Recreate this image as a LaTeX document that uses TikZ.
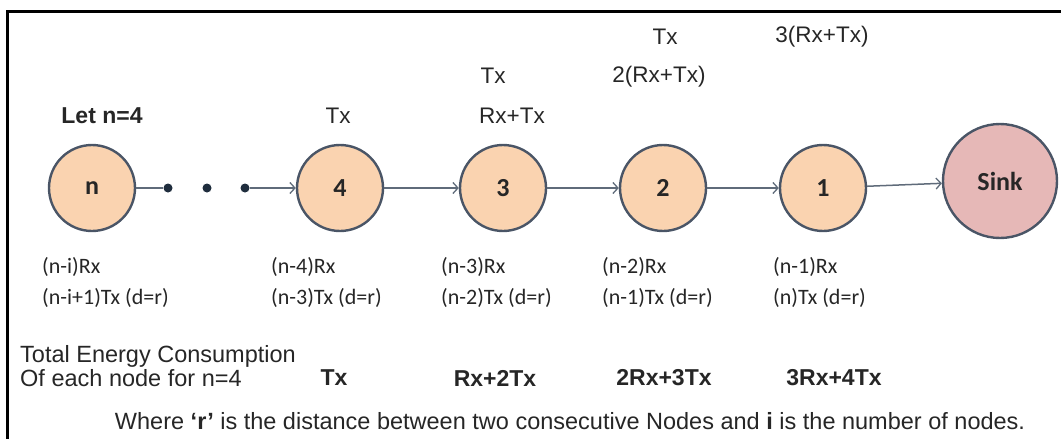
\documentclass[tikz,border=0pt]{standalone}
\usepackage{fontspec}
\setmainfont{Liberation Sans}
\newfontfamily\calfont{Carlito}
\usetikzlibrary{arrows.meta}
\definecolor{peach}{HTML}{FAD3B0}
\definecolor{rose}{HTML}{E6B8B7}
\definecolor{ring}{HTML}{4A5566}
\definecolor{wire}{HTML}{5F6B7A}
\definecolor{dotc}{HTML}{1F2D3D}
\definecolor{ink}{HTML}{262626}
\tikzset{
  nd/.style={circle, draw=ring, line width=2.4pt, fill=peach, minimum size=86pt,
    inner sep=0pt, text=ink, font=\calfont\bfseries\fontsize{26}{28}\selectfont},
  sinknd/.style={nd, fill=rose, minimum size=114pt},
  dotnd/.style={circle, fill=dotc, minimum size=9pt, inner sep=0pt},
  wireline/.style={draw=wire, line width=1.5pt},
  link/.style={wireline, -{Straight Barb[length=5pt,width=11pt,line width=1.3pt]}},
  toplbl/.style={text=ink, font=\fontsize{22.5}{26}\selectfont, inner sep=0pt},
  botlbl/.style={text=ink, font=\calfont\fontsize{22}{31}\selectfont, align=left, anchor=west, inner sep=0pt},
  sumlbl/.style={text=ink, font=\bfseries\fontsize{23}{26}\selectfont, inner sep=0pt},
}
\begin{document}
\begin{tikzpicture}[x=1pt, y=-1pt]
  \useasboundingbox (0,0) rectangle (1061,439);
  % frame (open to the right and bottom)
  \draw[line width=3pt, black] (7.5,439) -- (7.5,11) -- (1061,11);

  % chain of nodes
  \node[nd] (n) at (92,188) {n};
  \node[nd] (four) at (340,188) {4};
  \node[nd] (three) at (503,188) {3};
  \node[nd] (two) at (663,188) {2};
  \node[nd] (one) at (823,188) {1};
  \node[sinknd] (sink) at (1000,181) {Sink};

  % ellipsis between n and 4
  \node[dotnd] (d1) at (168,188) {};
  \node[dotnd] (d2) at (207,188) {};
  \node[dotnd] (d3) at (245,188) {};
  \draw[wireline] (n) -- (d1);
  \draw[link] (d3) -- (four);
  \draw[link] (four) -- (three);
  \draw[link] (three) -- (two);
  \draw[link] (two) -- (one);
  \draw[link] (one) -- (sink);

  % energy spent above each node
  \node[toplbl, font=\bfseries\fontsize{23}{26}\selectfont] (letn) at (102,116) {Let n=4};
  \node[toplbl] (t4) at (338,116) {Tx};
  \node[toplbl] (t3a) at (493,76) {Tx};
  \node[toplbl] (t3b) at (512,116) {Rx+Tx};
  \node[toplbl] (t2a) at (665,37) {Tx};
  \node[toplbl] (t2b) at (659,77) {2(Rx+Tx)};
  \node[toplbl] (t1) at (822,37) {3(Rx+Tx)};

  % receive / transmit terms below each node
  \node[botlbl] (bn) at (42,282) {(n-i)Rx\\(n-i+1)Tx (d=r)};
  \node[botlbl] (b4) at (271,282) {(n-4)Rx\\(n-3)Tx (d=r)};
  \node[botlbl] (b3) at (441,282) {(n-3)Rx\\(n-2)Tx (d=r)};
  \node[botlbl] (b2) at (602,282) {(n-2)Rx\\(n-1)Tx (d=r)};
  \node[botlbl] (b1) at (773,282) {(n-1)Rx\\(n)Tx (d=r)};

  % totals
  \node[text=ink, font=\fontsize{23.5}{24}\selectfont, align=left, anchor=west, inner sep=0pt]
    (total) at (20,366) {Total Energy Consumption\\Of each node for n=4};
  \node[sumlbl] (s4) at (334,378) {Tx};
  \node[sumlbl] (s3) at (495,378) {Rx+2Tx};
  \node[sumlbl] (s2) at (664,378) {2Rx+3Tx};
  \node[sumlbl] (s1) at (834,378) {3Rx+4Tx};

  % footnote
  \node[text=ink, font=\fontsize{23.5}{26}\selectfont, inner sep=0pt] (note) at (570,421)
    {Where \textbf{‘r’} is the distance between two consecutive Nodes and \textbf{i} is the number of nodes.};
\end{tikzpicture}
\end{document}
